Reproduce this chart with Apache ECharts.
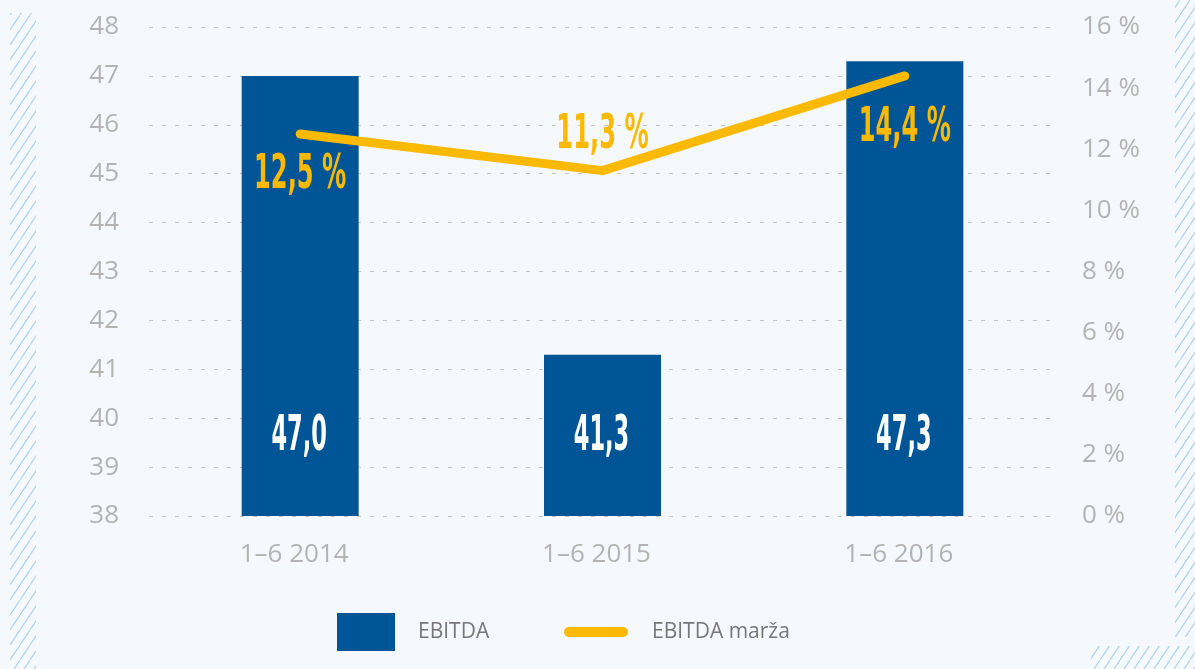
<!DOCTYPE html>
<html>
<head>
<meta charset="utf-8">
<script src="https://cdn.jsdelivr.net/npm/echarts@6/dist/echarts.min.js"></script>
<style>
html,body{margin:0;padding:0;background:#f5f9fd;}
#c{width:1195px;height:669px;}
</style>
</head>
<body>
<div id="c"></div>
<script>
const categories = ['1–6 2014', '1–6 2015', '1–6 2016'];
const ebitda = [47.0, 41.3, 47.3];
const ebitdaMargin = [12.5, 11.3, 14.4];
const leftTicks = {min: 38, max: 48, interval: 1};
const rightTicks = {min: 0, max: 16, interval: 2};
const seriesNames = ['EBITDA', 'EBITDA marža'];

const fmt = v => v.toFixed(1).replace('.', ',');
const marginLabelOffset = [42, -35, 53];

function hatch() {
  const c = document.createElement('canvas');
  c.width = 10; c.height = 15;
  const g = c.getContext('2d');
  g.strokeStyle = '#b3d4f1';
  g.lineWidth = 1.3;
  g.beginPath();
  g.moveTo(-10, 30); g.lineTo(10, 0);
  g.moveTo(0, 15); g.lineTo(10, 0);
  g.moveTo(0, 15); g.lineTo(20, -15);
  g.stroke();
  return {image: c, repeat: 'repeat'};
}
const pat = hatch();

const chart = echarts.init(document.getElementById('c'));
const condensed = "'Liberation Sans Narrow', 'DejaVu Sans Condensed', sans-serif";

chart.setOption({
  backgroundColor: '#f5f9fd',
  animation: false,
  graphic: [
    {type: 'rect', shape: {x: 10, y: 13, width: 26, height: 656}, style: {fill: pat}, silent: true},
    {type: 'rect', shape: {x: 1175, y: 0, width: 20, height: 637}, style: {fill: pat}, silent: true},
    {type: 'rect', shape: {x: 1091, y: 646, width: 104, height: 23}, style: {fill: pat}, silent: true}
  ],
  grid: {left: 149, right: 139, top: 27, bottom: 153},
  legend: [
    {
      data: [seriesNames[0]], left: 337, top: 613, padding: 0, itemWidth: 58, itemHeight: 38,
      icon: 'rect',
      textStyle: {fontFamily: 'Open Sans', fontSize: 21, color: '#777', padding: [0, 0, 0, 18]}
    },
    {
      data: [seriesNames[1]], left: 564, top: 613, padding: 0, itemWidth: 64, itemHeight: 10,
      icon: 'path://M5,0 L59,0 A5,5 0 0 1 59,10 L5,10 A5,5 0 0 1 5,0 Z',
      itemStyle: {color: '#fbb900', borderWidth: 0},
      textStyle: {fontFamily: 'Open Sans', fontSize: 21, color: '#777', padding: [0, 0, 0, 19], lineHeight: 38}
    }
  ],
  xAxis: {
    type: 'category', data: categories,
    axisLine: {show: false}, axisTick: {show: false},
    axisLabel: {fontFamily: 'Open Sans', fontSize: 26, color: '#b3b3b3', margin: 26, padding: [0, 12, 0, 0]}
  },
  yAxis: [
    {
      type: 'value', min: leftTicks.min, max: leftTicks.max, interval: leftTicks.interval,
      axisLine: {show: false}, axisTick: {show: false},
      axisLabel: {fontFamily: 'Open Sans', fontSize: 26, color: '#b3b3b3', margin: 30},
      splitLine: {lineStyle: {color: '#c4c4c4', type: [4, 9], width: 1}}
    },
    {
      type: 'value', min: rightTicks.min, max: rightTicks.max, interval: rightTicks.interval,
      axisLine: {show: false}, axisTick: {show: false},
      axisLabel: {fontFamily: 'Open Sans', fontSize: 26, color: '#b3b3b3', margin: 26, formatter: v => v + ' %'},
      splitLine: {show: false}
    }
  ],
  series: [
    {
      name: seriesNames[0], type: 'bar', data: ebitda, barWidth: 117,
      itemStyle: {color: '#005596'}, yAxisIndex: 0
    },
    {
      type: 'custom', yAxisIndex: 0, z: 3,
      data: ebitda.map((v, i) => [i, v]),
      renderItem: (params, api) => {
        const p = api.coord([api.value(0), leftTicks.min]);
        return {
          type: 'text', x: p[0] - 1, y: p[1] - 79, scaleX: 0.5,
          style: {
            text: fmt(api.value(1)), fill: '#ffffff',
            fontSize: 50, fontWeight: 'bold', fontFamily: condensed,
            align: 'center', verticalAlign: 'middle'
          }
        };
      }
    },
    {
      name: seriesNames[1], type: 'line', yAxisIndex: 1, data: ebitdaMargin,
      symbol: 'none', z: 4,
      itemStyle: {color: '#fbb900'},
      lineStyle: {color: '#fbb900', width: 9, cap: 'round', join: 'round'}
    },
    {
      type: 'custom', yAxisIndex: 1, z: 5,
      data: ebitdaMargin.map((v, i) => [i, v]),
      renderItem: (params, api) => {
        const i = api.value(0);
        const p = api.coord([i, api.value(1)]);
        return {
          type: 'text', x: p[0], y: p[1] + marginLabelOffset[i], scaleX: 0.56,
          style: {
            text: fmt(api.value(1)) + ' %', fill: '#fbb900',
            fontSize: 48, fontWeight: 'bold', fontFamily: condensed,
            align: 'center', verticalAlign: 'middle'
          }
        };
      }
    }
  ]
});
</script>
</body>
</html>
